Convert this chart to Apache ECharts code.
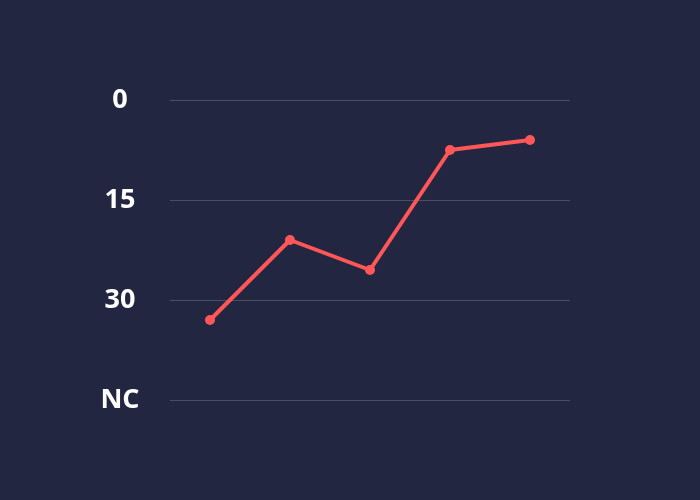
<!DOCTYPE html>
<html><head><meta charset="utf-8">
<script src="https://cdn.jsdelivr.net/npm/echarts@6/dist/echarts.min.js"></script>
<style>html,body{margin:0;padding:0;background:#222640;}#c{width:700px;height:500px;}</style>
</head><body><div id="c"></div>
<script>
var categories = ['1', '2', '3', '4', '5'];
var values = [33, 21, 25.5, 7.5, 6];
var tickLabels = {0: '0', 15: '15', 30: '30', 45: 'NC'};

var chart = echarts.init(document.getElementById('c'), null, {renderer: 'canvas'});
chart.setOption({
  backgroundColor: '#222640',
  animation: false,
  grid: {left: 170, right: 130, top: 100, bottom: 100},
  xAxis: {
    type: 'category', data: categories, boundaryGap: true,
    show: false
  },
  yAxis: {
    type: 'value', inverse: true, min: 0, max: 45, interval: 15,
    axisLine: {show: false}, axisTick: {show: false},
    splitLine: {lineStyle: {color: '#4a4e62', width: 1}},
    axisLabel: {
      color: '#ffffff', fontSize: 27, fontWeight: 'bold', fontFamily: 'Open Sans',
      margin: 50, align: 'center',
      formatter: function (v) { return tickLabels[v] !== undefined ? tickLabels[v] : ''; }
    }
  },
  series: [{
    type: 'line', data: values,
    symbol: 'circle', symbolSize: 10,
    lineStyle: {color: '#ff5757', width: 4},
    itemStyle: {color: '#ff5757'}
  }]
});
</script></body></html>
